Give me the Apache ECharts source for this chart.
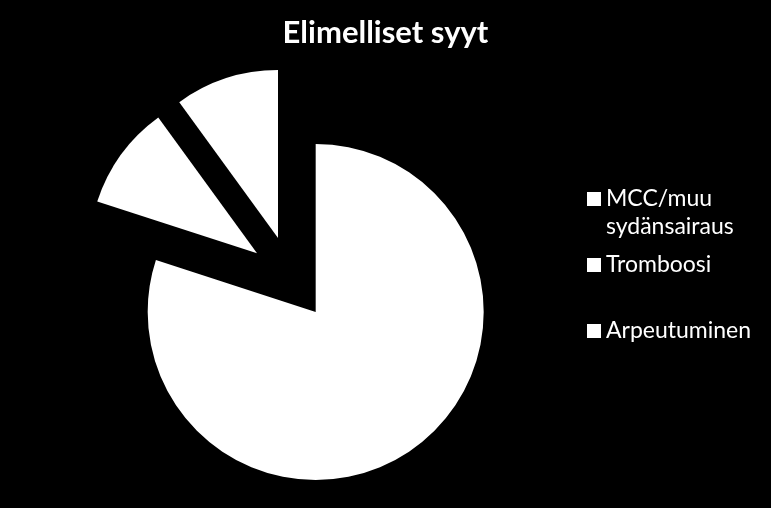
<!DOCTYPE html>
<html>
<head>
<meta charset="utf-8">
<script src="https://cdn.jsdelivr.net/npm/echarts@6/dist/echarts.min.js"></script>
<style>
html,body{margin:0;padding:0;background:#000;}
#chart{width:771px;height:508px;}
</style>
</head>
<body>
<div id="chart"></div>
<script>
const titleText = 'Elimelliset syyt';
const categories = ['MCC/muu\nsydänsairaus', 'Tromboosi', 'Arpeutuminen'];
const values = [80, 10, 10];

const chart = echarts.init(document.getElementById('chart'), null, {renderer: 'canvas'});
const font = 'Lato';
function legendAt(top, name, leadBlank) {
  return {
    orient: 'vertical',
    left: 587,
    top: top,
    padding: 0,
    itemWidth: 14,
    itemHeight: 14,
    icon: 'rect',
    selectedMode: false,
    data: [name],
    formatter: leadBlank ? function (n) { return ' \n' + n; } : '{name}',
    textStyle: {color: '#ffffff', fontFamily: font, fontSize: 23, lineHeight: 28}
  };
}
chart.setOption({
  backgroundColor: '#000000',
  animation: false,
  title: {
    text: titleText,
    left: 'center',
    top: 12,
    textStyle: {color: '#ffffff', fontFamily: font, fontWeight: 'bold', fontSize: 31}
  },
  legend: [
    legendAt(157, categories[0], true),
    legendAt(251, categories[1], false),
    legendAt(317, categories[2], false)
  ],
  series: [{
    type: 'pie',
    center: [291, 278],
    radius: 168,
    startAngle: 90,
    clockwise: true,
    selectedMode: 'multiple',
    selectedOffset: 42,
    label: {show: false},
    labelLine: {show: false},
    emphasis: {disabled: true},
    itemStyle: {color: '#ffffff', borderWidth: 0},
    data: categories.map((c, i) => ({name: c, value: values[i], selected: true}))
  }]
});
</script>
</body>
</html>
